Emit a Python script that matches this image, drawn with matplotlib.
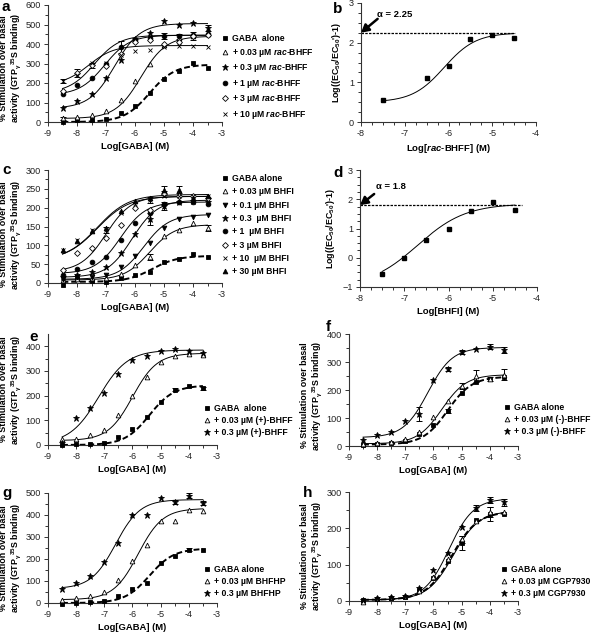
import matplotlib
matplotlib.use("Agg")
import matplotlib.pyplot as plt
import numpy as np

plt.rcParams['font.family'] = ['Liberation Sans', 'DejaVu Sans']
plt.rcParams['mathtext.fontset'] = 'custom'
plt.rcParams['mathtext.rm'] = 'Liberation Sans:bold'
plt.rcParams['mathtext.bf'] = 'Liberation Sans:bold'
plt.rcParams['mathtext.it'] = 'Liberation Sans:bold:italic'
plt.rcParams['mathtext.default'] = 'rm'

# ---- data ----
log_gaba = [-8.5, -8, -7.5, -7, -6.5, -6, -5.5, -5, -4.5, -4, -3.5]

# panel a: rac-BHFF
a_labels = ['GABA  alone', '+ 0.03 µM $\\mathit{rac}$-BHFF', '+ 0.3 µM $\\mathit{rac}$-BHFF',
            '+ 1 µM $\\mathit{rac}$-BHFF', '+ 3 µM $\\mathit{rac}$-BHFF', '+ 10 µM $\\mathit{rac}$-BHFF']
a_gaba = [0, 10, 8, 15, 45, 82, 150, 218, 262, 302, 278]
a_003 = [20, 25, 35, 58, 115, 210, 295, 395, 430, 440, 450]
a_03 = [72, 110, 145, 228, 320, 425, 458, 518, 500, 510, 480]
a_1 = [145, 190, 225, 300, 385, 420, 430, 440, 440, 445, 450]
a_3 = [160, 250, 290, 285, 350, 410, 420, 400, 410, 440, 445]
a_10 = [208, 240, 305, 305, 345, 365, 368, 385, 390, 390, 385]
a_err = {1: {-8.5: 8}, 2: {-3.5: 15}, 3: {-6.5: 30, -5: 15, -4.5: 12},
         4: {-8: 20, -7.5: 12, -4: 20}, 5: {-8.5: 10}}
a_bottom = [0, 18, 70, 138, 150, 190]
a_top = [295, 440, 505, 445, 445, 392]
a_ec50 = [-5.5, -5.8, -6.7, -7.05, -7.4, -7.6]
a_hill = [1, 1, 1, 1, 1, 1]

# panel b: Schild-like plot rac-BHFF
b_x = [-7.5, -6.5, -6, -5.5, -5, -4.5]
b_y = [0.55, 1.1, 1.4, 2.1, 2.2, 2.13]
b_fit = [0.5, 2.25, -6.1, 1.2]
b_alpha = 2.25

# panel c: BHFI
c_labels = ['GABA alone', '+ 0.03 µM BHFI', '+ 0.1 µM BHFI', '+ 0.3  µM BHFI',
            '+ 1  µM BHFI', '+ 3 µM BHFI', '+ 10  µM BHFI', '+ 30 µM BHFI']
c_gaba = [-5, 10, 5, 2, 12, 20, 30, 55, 65, 78, 68]
c_003 = [8, 10, 12, 12, 25, 47, 70, 125, 142, 158, 145]
c_01 = [10, 15, 15, 20, 42, 72, 105, 145, 170, 175, 180]
c_03 = [15, 22, 28, 42, 80, 130, 170, 205, 215, 218, 215]
c_1 = [22, 37, 57, 68, 115, 160, 185, 210, 215, 215, 210]
c_3 = [35, 80, 93, 120, 155, 200, 195, 235, 230, 230, 225]
c_10 = [87, 115, 140, 140, 185, 210, 220, 232, 232, 230, 230]
c_30 = [88, 112, 137, 145, 190, 218, 225, 248, 248, 225, 232]
c_err = {1: {-5.5: 8, -3.5: 8}, 3: {-5.5: 15, -5: 10}, 5: {-5: 8},
         6: {-7: 8, -5.5: 8}, 7: {-4.5: 10, -5: 10}}
c_bottom = [3, 8, 10, 15, 25, 30, 60, 60]
c_top = [72, 155, 182, 220, 215, 230, 230, 235]
c_ec50 = [-5.4, -5.5, -5.7, -6.1, -6.5, -7.0, -7.3, -7.3]
c_hill = [1, 1, 1, 1, 1, 1, 0.8, 0.8]

# panel d: BHFI
d_x = [-7.5, -7, -6.5, -6, -5.5, -5, -4.5]
d_y = [-0.55, 0.0, 0.62, 1.0, 1.6, 1.9, 1.62]
d_fit = [-1.0, 1.85, -6.7, 0.8]
d_alpha = 1.8

# panel e: (+)-BHFF
e_labels = ['GABA  alone', '+ 0.03 µM (+)-BHFF', '+ 0.3 µM (+)-BHFF']
e_gaba = [0, 3, 6, 10, 33, 65, 113, 175, 225, 238, 230]
e_003 = [25, 25, 40, 62, 122, 200, 275, 335, 360, 370, 365]
e_03 = [10, 110, 148, 210, 288, 345, 362, 380, 388, 380, 372]
e_err = {0: {-4.5: 8, -3.5: 6}}
e_bottom = [0, 18, 5]
e_top = [242, 372, 385]
e_ec50 = [-5.4, -6.0, -7.2]
e_hill = [1, 1, 0.85]

# panel f: (-)-BHFF
f_labels = ['GABA alone', '+ 0.03 µM (-)-BHFF', '+ 0.3 µM (-)-BHFF']
f_gaba = [5, 8, 12, 18, 42, 75, 125, 190, 230, 240, 245]
f_003 = [8, 10, 15, 25, 50, 105, 160, 215, 250, 240, 255]
f_03 = [22, 38, 50, 90, 115, 237, 275, 335, 348, 355, 342]
f_err = {0: {-5.5: 8, -4: 8}, 1: {-5: 10, -4.5: 20, -3.5: 20},
         2: {-6.5: 25, -5.5: 6, -5: 7, -4: 10, -3.5: 10}}
f_bottom = [5, 8, 30]
f_top = [248, 255, 352]
f_ec50 = [-5.5, -5.7, -6.2]
f_hill = [1, 1, 1]

# panel g: BHFHP
g_labels = ['GABA alone', '+ 0.03 µM BHFHP', '+ 0.3 µM BHFHP']
g_gaba = [-3, 0, 3, 8, 30, 62, 92, 180, 212, 243, 240]
g_003 = [15, 22, 30, 50, 105, 190, 265, 375, 375, 425, 420]
g_03 = [65, 90, 125, 188, 275, 400, 398, 478, 458, 488, 455]
g_err = {0: {-4: 8}, 2: {-4.5: 8, -4: 12, -3.5: 10}}
g_bottom = [0, 15, 65]
g_top = [248, 430, 470]
g_ec50 = [-5.4, -5.8, -6.6]
g_hill = [1, 1, 1]

# panel h: CGP7930
h_labels = ['GABA alone', '+ 0.03 µM CGP7930', '+ 0.3 µM CGP7930']
h_gaba = [2, 6, 8, 10, 30, 62, 110, 160, 222, 240, 240]
h_003 = [-3, 7, 10, 15, 28, 65, 115, 170, 220, 245, 245]
h_03 = [2, 8, 10, 15, 35, 85, 132, 205, 255, 278, 272]
h_err = {0: {-5: 20, -4: 20}, 1: {-5: 10, -4: 15}, 2: {-4.5: 8, -4: 7, -3.5: 10}}
h_bottom = [3, 3, 3]
h_top = [246, 248, 282]
h_ec50 = [-5.35, -5.3, -5.45]
h_hill = [0.95, 0.95, 1]

# ---- styles ----
star = '*'
mk_a = [('s', 'k'), ('^', 'w'), (star, 'k'), ('o', 'k'), ('D', 'w'), ('x', 'k')]
mk_c = [('s', 'k'), ('^', 'w'), ('v', 'k'), (star, 'k'), ('o', 'k'), ('D', 'w'), ('x', 'k'), ('^', 'k')]
mk_3 = [('s', 'k'), ('^', 'w'), (star, 'k')]

W, H = 591, 633
fig = plt.figure(figsize=(W / 100, H / 100), dpi=100)

LAB = 6.4   # axis label size
LEG = 6.2   # legend size


def px_axes(l, r, t, b):
    return fig.add_axes([l / W, 1 - b / H, (r - l) / W, (b - t) / H])


def hill(x, bottom, top, ec50, n):
    x = np.asarray(x)
    return bottom + (top - bottom) / (1 + 10 ** ((ec50 - x) * n))


def style_axes(ax, xlim, ylim, xmaj, ymaj, xmin, ymin):
    ax.set_xlim(*xlim)
    ax.set_ylim(*ylim)
    for s in ['top', 'right']:
        ax.spines[s].set_visible(False)
    for s in ['left', 'bottom']:
        ax.spines[s].set_linewidth(0.8)
        ax.spines[s].set_color('#333333')
    ax.set_xticks(np.arange(xlim[0], xlim[1] + 0.01, xmaj))
    ax.set_xticks(np.arange(xlim[0], xlim[1] + 0.01, xmin), minor=True)
    ax.set_yticks(np.arange(ymaj[0], ymaj[1] + 0.01, ymaj[2]))
    ax.set_yticks(np.arange(ymaj[0], ymaj[1] + 0.01, ymin), minor=True)
    ax.xaxis.set_major_formatter(plt.FuncFormatter(lambda v, p: '%g' % v))
    ax.tick_params(which='both', direction='out', labelsize=6.6, color='#333333',
                   labelcolor='#222222', width=0.7, pad=2)
    ax.tick_params(which='major', length=3)
    ax.tick_params(which='minor', length=2)


ylab = '% Stimulation over basal\nactivity (GTP$_{γ}$$^{35}$S binding)'


def dose_panel(ax, series, bottoms, tops, ec50s, hills, marks, labels, errs,
               xlim, ylim, ymaj, ymin, leg_xy, spacing, ylab_y=0.5):
    xs = np.linspace(-8.5, -3.5, 200)
    handles = []
    for i, vals in enumerate(series):
        ls = (0, (3, 1.5)) if i == 0 else '-'
        lw = 1.4 if i == 0 else 0.7
        ax.plot(xs, hill(xs, bottoms[i], tops[i], ec50s[i], hills[i]),
                color='k', ls=ls, lw=lw, zorder=2)
        e = errs.get(i, {})
        xe = [x for x in log_gaba if x in e]
        if xe:
            ye = [vals[log_gaba.index(x)] for x in xe]
            ax.errorbar(xe, ye, yerr=[e[x] for x in xe], fmt='none', ecolor='k',
                        elinewidth=0.7, capsize=2, capthick=0.7, zorder=3)
        m, fc = marks[i]
        ms = 4.5 if m == star else (3 if m == 'D' else 3.4)
        h, = ax.plot(log_gaba, vals, ls='none', marker=m, mfc=fc, mec='k',
                     mew=0.6, ms=ms, color='k', clip_on=False, zorder=4, label=labels[i])
        handles.append(h)
    style_axes(ax, xlim, ylim, 1, ymaj, 0.5, ymin)
    ax.set_xlabel('Log[GABA] (M)', fontsize=LAB + 0.4, fontweight='bold', labelpad=3)
    ax.set_ylabel(ylab, fontsize=LAB, fontweight='bold', labelpad=2, linespacing=1.15)
    ax.yaxis.label.set_y(ylab_y)
    ax.legend(handles=handles, loc='upper left', bbox_to_anchor=(leg_xy[0] / W, 1 - leg_xy[1] / H),
              bbox_transform=fig.transFigure, frameon=False, handlelength=0.6,
              handletextpad=0.6, borderpad=0, borderaxespad=0, labelspacing=spacing,
              prop={'weight': 'bold', 'size': LEG})


def schild_panel(ax, xs, ys, fit, alpha, xlabel, ylim, ymaj, text_xy, tail, dash_end):
    xx = np.linspace(xs[0], xs[-1], 200)
    ax.plot(xx, hill(xx, *fit), color='k', lw=0.7)
    ax.plot(xs, ys, ls='none', marker='s', ms=2.3, color='k', clip_on=False)
    ax.plot([-8, dash_end], [alpha, alpha], color='k', ls=(0, (2, 1)), lw=0.9)
    ax.annotate('', xy=(-8, alpha), xytext=tail,
                arrowprops=dict(arrowstyle='-|>,head_width=0.25,head_length=0.45',
                                color='k', lw=1.8, shrinkA=0, shrinkB=0))
    ax.text(text_xy[0], text_xy[1], 'α = %g' % alpha, fontsize=LAB + 0.4, fontweight='bold',
            ha='left', va='center')
    style_axes(ax, (-8, -4), ylim, 1, ymaj, 0.25, 0.25)
    ax.set_xlabel(xlabel, fontsize=LAB + 0.4, fontweight='bold', labelpad=3)
    ax.set_ylabel("Log((EC$_{50}$/EC$_{50}$')-1)", fontsize=LAB, fontweight='bold', labelpad=4)


ax_a = px_axes(48, 222, 5, 122)
dose_panel(ax_a, [a_gaba, a_003, a_03, a_1, a_3, a_10], a_bottom, a_top, a_ec50, a_hill,
           mk_a, a_labels, a_err, (-9, -3), (0, 600), (0, 600, 100), 50, (222, 34), 0.42, 0.46)

ax_b = px_axes(361, 536, 3, 122)
schild_panel(ax_b, b_x, b_y, b_fit, b_alpha, 'Log[$\\mathit{rac}$-BHFF] (M)',
             (0, 3), (0, 3, 1), (-7.63, 2.7), (-7.62, 2.6), -4.48)

ax_c = px_axes(48, 222, 170, 283)
dose_panel(ax_c, [c_gaba, c_003, c_01, c_03, c_1, c_3, c_10, c_30], c_bottom, c_top, c_ec50,
           c_hill, mk_c, c_labels, c_err, (-9, -3), (0, 300), (0, 300, 50), 25, (222, 174), 0.5, 0.43)

ax_d = px_axes(360, 537, 170, 287)
schild_panel(ax_d, d_x, d_y, d_fit, d_alpha, 'Log[BHFI] (M)',
             (-1, 3), (-1, 3, 1), (-7.63, 2.42), (-7.68, 2.18), -4.34)

ax_e = px_axes(48, 217, 334, 445)
dose_panel(ax_e, [e_gaba, e_003, e_03], e_bottom, e_top, e_ec50, e_hill,
           mk_3, e_labels, e_err, (-9, -3), (0, 450), (0, 400, 100), 50, (204, 404), 0.35)

ax_f = px_axes(349, 518, 334, 446)
dose_panel(ax_f, [f_gaba, f_003, f_03], f_bottom, f_top, f_ec50, f_hill,
           mk_3, f_labels, f_err, (-9, -3), (0, 400), (0, 400, 100), 50, (504, 403), 0.35, 0.45)

ax_g = px_axes(48, 217, 493, 603)
dose_panel(ax_g, [g_gaba, g_003, g_03], g_bottom, g_top, g_ec50, g_hill,
           mk_3, g_labels, g_err, (-9, -3), (0, 500), (0, 500, 100), 50, (204, 565), 0.35, 0.41)

ax_h = px_axes(349, 518, 492, 601)
dose_panel(ax_h, [h_gaba, h_003, h_03], h_bottom, h_top, h_ec50, h_hill,
           mk_3, h_labels, h_err, (-9, -3), (0, 300), (0, 300, 100), 50, (501, 565), 0.35, 0.41)

for lab, x, y in [('a', 2, 0), ('b', 333, 2), ('c', 2, 163), ('d', 333, 166),
                  ('e', 29, 330), ('f', 326, 320), ('g', 2, 486), ('h', 303, 486)]:
    fig.text(x / W, 1 - y / H, lab, fontsize=11, fontweight='bold', ha='left', va='top')

fig.savefig('out.png', dpi=100, facecolor='white')
